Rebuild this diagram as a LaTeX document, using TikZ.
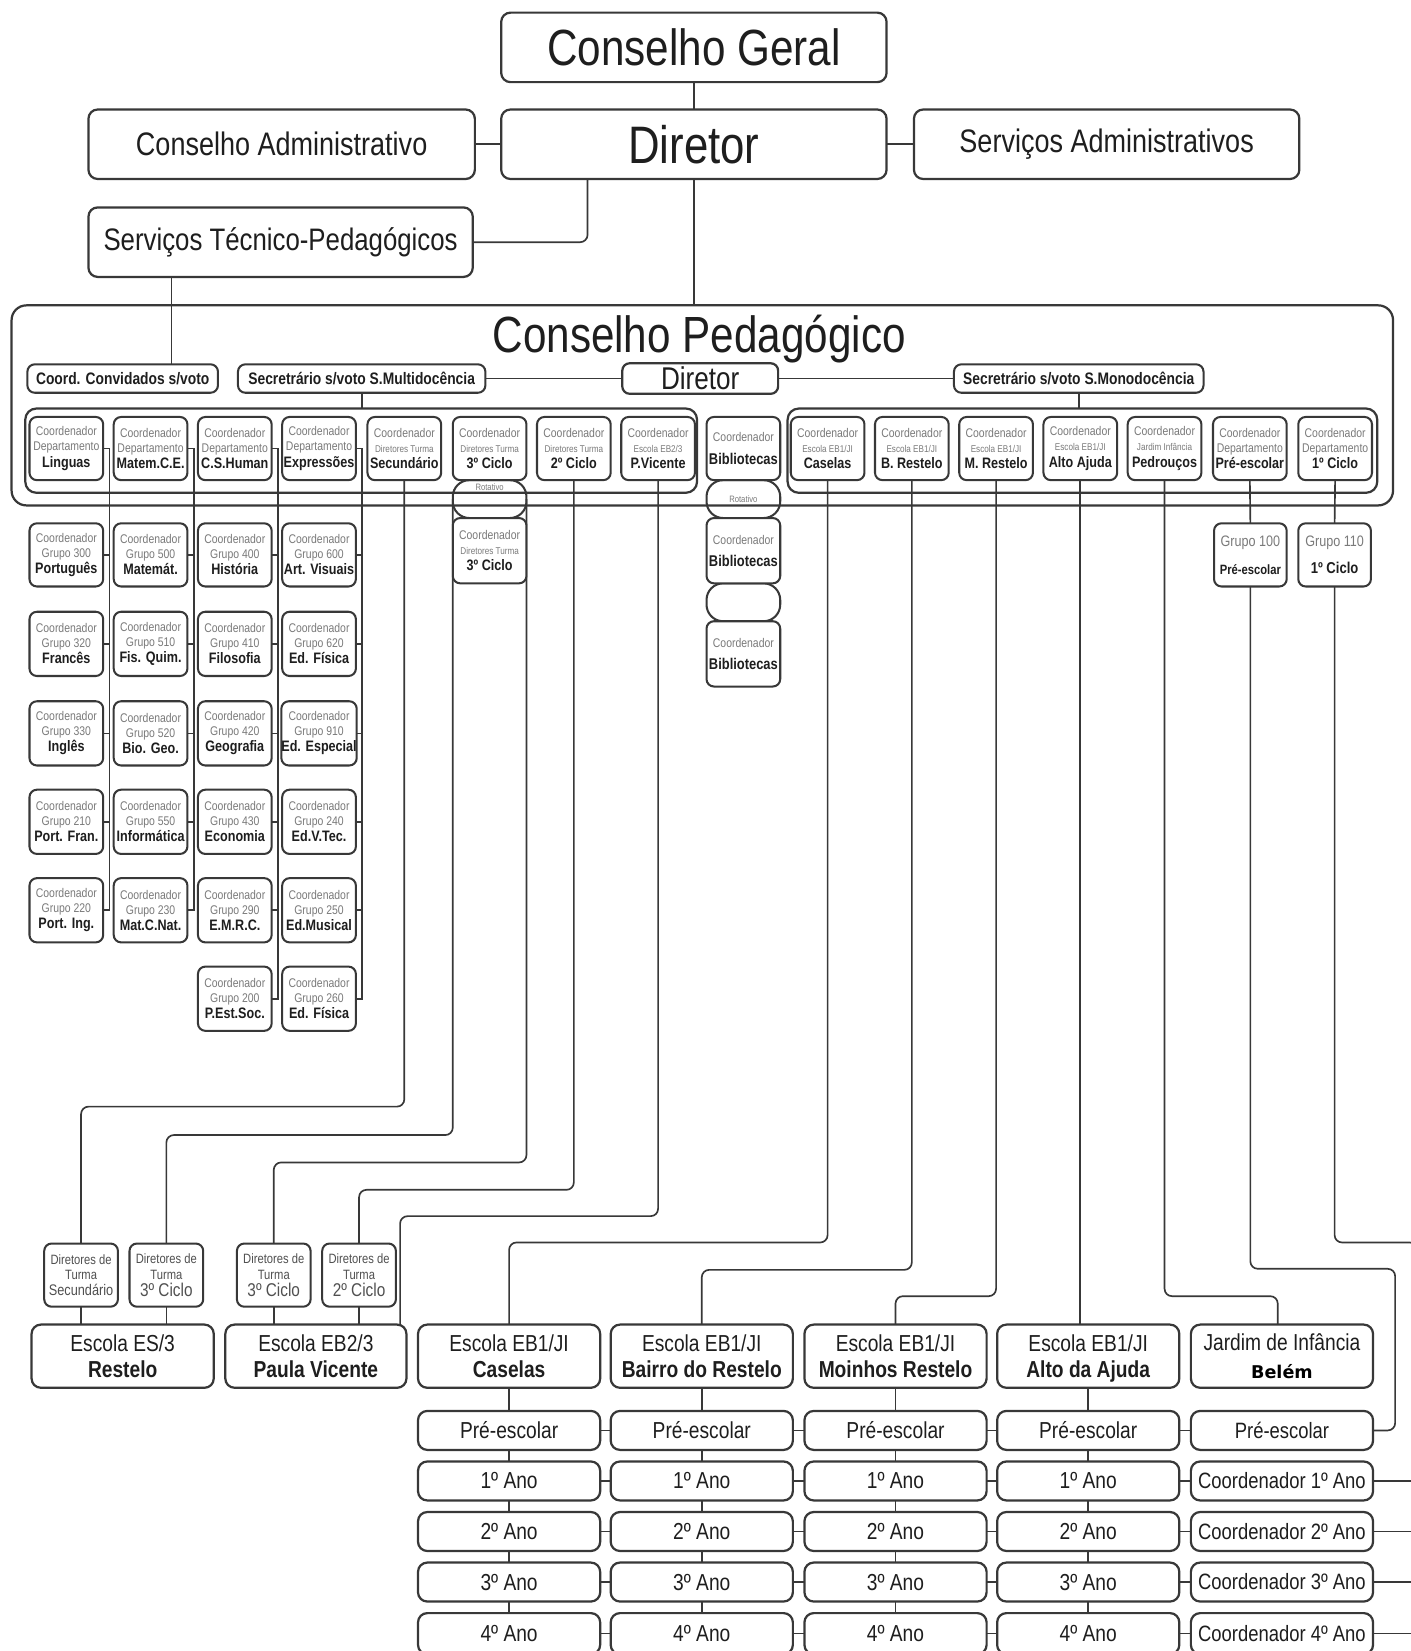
\documentclass[tikz,border=0pt]{standalone}
\usepackage{fontspec}
\setmainfont{Liberation Sans}[FakeStretch=0.83]
\newfontfamily\dejavu{DejaVu Sans}
\usetikzlibrary{backgrounds}
\definecolor{bcol}{HTML}{383838}
\definecolor{tcol}{HTML}{1E1E1E}
\definecolor{gcol}{HTML}{7A7A7A}
\definecolor{dtcol}{HTML}{505050}
\newcommand\fs[2]{\fontsize{#1}{#2}\selectfont}
\newcommand\dA{\fs{6.8}{8}}
\newcommand\dB{\fs{5.3}{8}}
\newcommand\cd[3]{{\fs{6.8}{8}\color{gcol}Coordenador}\\{#1\color{gcol}#2}\\[0.8pt]{\fs{8.2}{9}\bfseries\color{tcol}#3}}
\newcommand\bibt{{\fs{6.8}{8}\color{gcol}Coordenador}\\[4pt]{\fs{8.4}{9}\bfseries\color{tcol}Bibliotecas}}
\newcommand\Bx[7][]{\node[#1,minimum width={(#4-#2)*0.02cm},minimum height={(#5-#3)*0.02cm}] (#6) at ({(#2+#4)/2},{(#3+#5)/2}) {#7};}
\tikzset{
 box/.style={draw=bcol,line width=1.2pt,rounded corners=5pt,fill=white,inner sep=0pt,outer sep=0pt,align=center,text=tcol},
 sb/.style={box,rounded corners=4pt,line width=1.1pt,font=\fs{6.8}{8}},
 lab/.style={box,font=\fs{9}{10}\bfseries,rounded corners=4pt,line width=1.1pt},
 cont/.style={box,fill=none,rounded corners=6pt},
 rot/.style={draw=bcol,line width=1.1pt,rounded corners=9pt,inner sep=0pt,outer sep=0pt,align=center},
 dtb/.style={sb,font=\fs{7.3}{8.6},text=dtcol},
 sch/.style={box,font=\fs{12.5}{14.5},text depth=0pt},
 rowb/.style={box,font=\fs{12.5}{14}},
 ln/.style={draw=bcol,line width=0.9pt},
 rln/.style={ln,rounded corners=4pt},
}
\begin{document}
\begin{tikzpicture}[x=0.02cm,y=-0.02cm]
\useasboundingbox (0,0) rectangle (1340,1568);
% ---------- top ----------
\Bx[box,font=\fs{27.5}{30}]{476}{12}{842}{78}{cg}{Conselho Geral}
\Bx[box,font=\fs{28.5}{30}]{476}{104}{842}{170}{dir}{Diretor}
\Bx[box,font=\fs{17.6}{20}]{84}{104}{451}{170}{ca}{Conselho Administrativo}
\Bx[box,font=\fs{17.6}{20}]{868}{104}{1234}{170}{sa}{Serviços Administrativos}
\Bx[box,font=\fs{16.8}{20}]{84}{197}{449}{263}{stp}{Serviços Técnico-Pedagógicos}
% ---------- Conselho Pedagogico ----------
\Bx[cont,rounded corners=8pt]{11}{290}{1323}{480}{cp}{}
\node[font=\fs{27.5}{30},text=tcol,anchor=base] (cpt) at (664,335) {Conselho Pedagógico};
\Bx[lab]{26}{346}{207}{373}{conv}{Coord. Convidados s/voto}
\Bx[lab]{226}{346}{461}{373}{secm}{Secretrário s/voto S.Multidocência}
\Bx[box,font=\fs{17}{20},rounded corners=4pt]{591}{345}{739}{374}{dir2}{Diretor}
\Bx[lab]{906}{346}{1143}{373}{secmo}{Secretrário s/voto S.Monodocência}
\Bx[cont]{24}{388}{662}{468}{lcont}{}
\Bx[cont]{748}{388}{1308}{468}{rcont}{}
% rotativo shapes
\Bx[rot]{430}{456}{500}{492}{rot1}{}
\node[font=\fs{5}{6},text=gcol] (rot1t) at (465,463) {Rotativo};
\Bx[rot,font=\fs{5}{6},text=gcol]{671}{456}{741}{492}{rot2}{Rotativo}
\Bx[rot]{671}{554}{741}{590}{emp}{}
% inner boxes
\Bx[sb]{28}{396}{98}{456}{ling}{\cd\dA{Departamento}{Linguas}}
\Bx[sb]{108}{396}{178}{456}{mat}{\cd\dA{Departamento}{Matem.C.E.}}
\Bx[sb]{188}{396}{258}{456}{csh}{\cd\dA{Departamento}{C.S.Human}}
\Bx[sb]{268}{396}{338}{456}{expr}{\cd\dA{Departamento}{Expressões}}
\Bx[sb]{349}{396}{419}{456}{secd}{\cd\dB{Diretores Turma}{Secundário}}
\Bx[sb]{430}{396}{500}{456}{cic3}{\cd\dB{Diretores Turma}{3º Ciclo}}
\Bx[sb]{510}{396}{580}{456}{cic2}{\cd\dB{Diretores Turma}{2º Ciclo}}
\Bx[sb]{590}{396}{660}{456}{pvic}{\cd\dB{Escola EB2/3}{P.Vicente}}
\Bx[sb]{671}{396}{741}{456}{bib}{\bibt}
\Bx[sb]{751}{396}{821}{456}{cas}{\cd\dB{Escola EB1/JI}{Caselas}}
\Bx[sb]{831}{396}{901}{456}{bres}{\cd\dB{Escola EB1/JI}{B. Restelo}}
\Bx[sb]{911}{396}{981}{456}{mres}{\cd\dB{Escola EB1/JI}{M. Restelo}}
\Bx[sb]{991}{396}{1061}{456}{alto}{\cd\dB{Escola EB1/JI}{Alto Ajuda}}
\Bx[sb]{1071}{396}{1141}{456}{pedr}{\cd\dB{Jardim Infância}{Pedrouços}}
\Bx[sb]{1152}{396}{1222}{456}{dpre}{\cd\dA{Departamento}{Pré-escolar}}
\Bx[sb]{1233}{396}{1303}{456}{dcic}{\cd\dA{Departamento}{1º Ciclo}}
\Bx[sb]{430}{492}{500}{554}{cic3b}{\cd\dB{Diretores Turma}{3º Ciclo}}
\Bx[sb]{671}{492}{741}{554}{bib2}{\bibt}
\Bx[sb]{671}{590}{741}{652}{bib3}{\bibt}
% ---------- grupos ----------
\Bx[sb]{28}{497}{98}{557}{port}{\cd\dA{Grupo 300}{Português}}
\Bx[sb]{28}{581}{98}{642}{fran}{\cd\dA{Grupo 320}{Francês}}
\Bx[sb]{28}{666}{98}{727}{ingl}{\cd\dA{Grupo 330}{Inglês}}
\Bx[sb]{28}{750}{98}{811}{pfra}{\cd\dA{Grupo 210}{Port. Fran.}}
\Bx[sb]{28}{834}{98}{895}{ping}{\cd\dA{Grupo 220}{Port. Ing.}}
\Bx[sb]{108}{497}{178}{557}{mtm}{\cd\dA{Grupo 500}{Matemát.}}
\Bx[sb]{108}{581}{178}{642}{fisq}{\cd\dA{Grupo 510}{Fis. Quim.}}
\Bx[sb]{108}{666}{178}{727}{biog}{\cd\dA{Grupo 520}{Bio. Geo.}}
\Bx[sb]{108}{750}{178}{811}{info}{\cd\dA{Grupo 550}{Informática}}
\Bx[sb]{108}{834}{178}{895}{mcn}{\cd\dA{Grupo 230}{Mat.C.Nat.}}
\Bx[sb]{188}{497}{258}{557}{hist}{\cd\dA{Grupo 400}{História}}
\Bx[sb]{188}{581}{258}{642}{filo}{\cd\dA{Grupo 410}{Filosofia}}
\Bx[sb]{188}{666}{258}{727}{geog}{\cd\dA{Grupo 420}{Geografia}}
\Bx[sb]{188}{750}{258}{811}{econ}{\cd\dA{Grupo 430}{Economia}}
\Bx[sb]{188}{834}{258}{895}{emrc}{\cd\dA{Grupo 290}{E.M.R.C.}}
\Bx[sb]{188}{918}{258}{979}{pest}{\cd\dA{Grupo 200}{P.Est.Soc.}}
\Bx[sb]{268}{497}{338}{557}{artv}{\cd\dA{Grupo 600}{Art. Visuais}}
\Bx[sb]{268}{581}{338}{642}{edfa}{\cd\dA{Grupo 620}{Ed. Física}}
\Bx[sb]{268}{666}{338}{727}{edes}{\cd\dA{Grupo 910}{Ed. Especial}}
\Bx[sb]{268}{750}{338}{811}{edvt}{\cd\dA{Grupo 240}{Ed.V.Tec.}}
\Bx[sb]{268}{834}{338}{895}{edmu}{\cd\dA{Grupo 250}{Ed.Musical}}
\Bx[sb]{268}{918}{338}{979}{edfb}{\cd\dA{Grupo 260}{Ed. Física}}
\Bx[sb,font=\fs{8.2}{9}]{1153}{497}{1222}{557}{g100}{{\color{gcol}Grupo 100}\\[6pt]{\fs{7.3}{8}\bfseries Pré-escolar}}
\Bx[sb,font=\fs{8.2}{9}]{1233}{497}{1302}{557}{g110}{{\color{gcol}Grupo 110}\\[6pt]{\fs{8.5}{9}\bfseries 1º Ciclo}}
% ---------- diretores de turma ----------
\Bx[dtb]{42}{1181}{112}{1241}{dt1}{Diretores de\\Turma\\{\fs{8.3}{9}Secundário}}
\Bx[dtb]{123}{1181}{193}{1241}{dt2}{Diretores de\\Turma\\[0.5pt]{\fs{10}{10}3º Ciclo}}
\Bx[dtb]{225}{1181}{295}{1241}{dt3}{Diretores de\\Turma\\[0.5pt]{\fs{10}{10}3º Ciclo}}
\Bx[dtb]{306}{1181}{376}{1241}{dt4}{Diretores de\\Turma\\[0.5pt]{\fs{10}{10}2º Ciclo}}
% ---------- escolas ----------
\Bx[sch]{30}{1258}{203}{1318}{es3}{Escola ES/3\\{\bfseries Restelo}}
\Bx[sch]{214}{1258}{386}{1318}{eb23}{Escola EB2/3\\{\bfseries Paula Vicente}}
\Bx[sch]{397}{1258}{570}{1318}{s1}{Escola EB1/JI\\{\bfseries Caselas}}
\Bx[sch]{580}{1258}{753}{1318}{s2}{Escola EB1/JI\\{\bfseries Bairro do Restelo}}
\Bx[sch]{764}{1258}{937}{1318}{s3}{Escola EB1/JI\\{\bfseries Moinhos Restelo}}
\Bx[sch]{947}{1258}{1120}{1318}{s4}{Escola EB1/JI\\{\bfseries Alto da Ajuda}}
\Bx[sch]{1131}{1258}{1304}{1318}{s5}{Jardim de Infância\\[1pt]{\dejavu\bfseries\fs{9.5}{11}\color{black}Belém}}
% ---------- anos ----------
\foreach \c/\xa/\xb in {1/397/570,2/580/753,3/764/937,4/947/1120}{
  \foreach \r/\ya/\yb/\t in {0/1340/1377/Pré-escolar,1/1388/1425/1º Ano,2/1436/1473/2º Ano,3/1484/1521/3º Ano,4/1532/1571/4º Ano}{
    \Bx[rowb]{\xa}{\ya}{\xb}{\yb}{b\r\c}{\t}
  }
}
\foreach \r/\ya/\yb/\t in {0/1340/1377/Pré-escolar,1/1388/1425/Coordenador 1º Ano,2/1436/1473/Coordenador 2º Ano,3/1484/1521/Coordenador 3º Ano,4/1532/1571/Coordenador 4º Ano}{
  \Bx[rowb,font=\fs{12}{14}]{1131}{\ya}{1304}{\yb}{b\r5}{\t}
}
% ---------- connectors ----------
\begin{pgfonlayer}{background}
\fill[white] (0,0) rectangle (1340,1568);
\draw[ln] (cg.south) -- (dir.north);
\draw[ln] (ca.east) -- (dir.west);
\draw[ln] (dir.east) -- (sa.west);
\coordinate (dirl) at ([xshift=-2.02cm]dir.south);
\draw[rln] (dirl) |- (stp.east);
\draw[ln] (dir.south) -- (dir.south |- cp.north);
\coordinate (stpl) at ([xshift=-2.07cm]stp.south);
\draw[ln] (stpl) -- (stpl |- conv.north);
\draw[ln] (secm.east) -- (dir2.west);
\draw[ln] (dir2.east) -- (secmo.west);
\draw[ln] (secm.south) -- (secm.south |- lcont.north);
\draw[ln] (secmo.south) -- (secmo.south |- rcont.north);
% departamentos -> grupos
\draw[ln] (ling.east) -- ++(6,0) |- (ping.east);
\foreach \n in {port,fran,ingl,pfra} \draw[ln] (\n.east) -- ++(6,0);
\draw[ln] (mat.east) -- ++(6,0) |- (mcn.east);
\foreach \n in {mtm,fisq,biog,info} \draw[ln] (\n.east) -- ++(6,0);
\draw[ln] (csh.east) -- ++(6,0) |- (pest.east);
\foreach \n in {hist,filo,geog,econ,emrc} \draw[ln] (\n.east) -- ++(6,0);
\draw[ln] (expr.east) -- ++(6,0) |- (edfb.east);
\foreach \n in {artv,edfa,edes,edvt,edmu} \draw[ln] (\n.east) -- ++(6,0);
% coordenadores -> escolas
\draw[rln] (secd.south) -- (secd.south |- 0,1051) -| (dt1.north);
\draw[rln] (rot1.west) -- (rot1.west |- 0,1078) -| (dt2.north);
\draw[rln] (rot1.east) -- (rot1.east |- 0,1104) -| (dt3.north);
\draw[rln] (cic2.south) -- (cic2.south |- 0,1130) -| (dt4.north);
\coordinate (pvend) at ([xshift=-0.12cm]eb23.north east);
\draw[rln] (pvic.south) -- (pvic.south |- 0,1155) -| (pvend);
\draw[rln] (cas.south) -- (cas.south |- 0,1180) -| (s1.north);
\draw[rln] (bres.south) -- (bres.south |- 0,1206) -| (s2.north);
\draw[rln] (mres.south) -- (mres.south |- 0,1231) -| (s3.north);
\draw[ln] (alto.south) -- (alto.south |- s4.north);
\coordinate (jend) at ([xshift=-0.08cm]s5.north);
\draw[rln] (pedr.south) -- (pedr.south |- 0,1231) -| (jend);
\draw[ln] (dpre.south) -- (g100.north);
\draw[ln] (dcic.south) -- (g110.north);
\coordinate (g100t) at (1325,1205);
\draw[rln] (g100.south) |- (g100t) |- (b05.east);
\coordinate (redge) at (1346,1180);
\draw[rln] (g110.south) |- (redge) -- (redge |- b45.east);
\foreach \n in {b15,b25,b35,b45} \draw[ln] (\n.east) -- (\n.east -| redge);
\foreach \d/\s in {dt1/es3,dt2/es3,dt3/eb23,dt4/eb23} \draw[ln] (\d.south) -- (\d.south |- \s.north);
\foreach \c in {1,2,3,4}{
  \draw[ln] (s\c.south) -- (b0\c.north);
  \foreach \r/\rn in {0/1,1/2,2/3,3/4} \draw[ln] (b\r\c.south) -- (b\rn\c.north);
}
\foreach \r in {0,1,2,3,4}{
  \foreach \c/\cn in {1/2,2/3,3/4,4/5} \draw[ln] (b\r\c.east) -- (b\r\cn.west);
}
\end{pgfonlayer}
\end{tikzpicture}
\end{document}
